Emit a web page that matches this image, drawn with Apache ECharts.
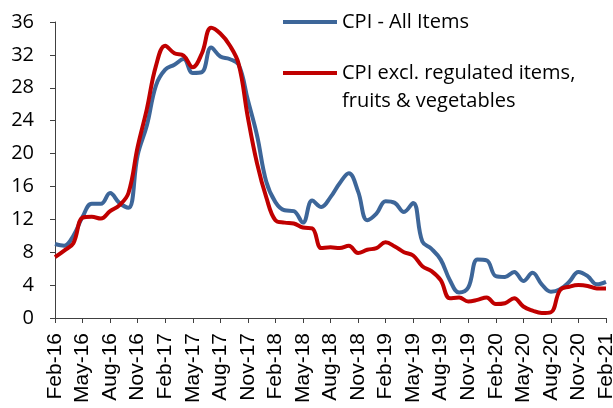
<!DOCTYPE html>
<html>
<head>
<meta charset="utf-8">
<script src="https://cdn.jsdelivr.net/npm/echarts@6/dist/echarts.min.js"></script>
<style>
html,body{margin:0;padding:0;background:#fff;}
#c{width:613px;height:408px;}
</style>
</head>
<body>
<div id="c"></div>
<script>
var categories = [
 'Feb-16','Mar-16','Apr-16','May-16','Jun-16','Jul-16','Aug-16','Sep-16','Oct-16','Nov-16','Dec-16','Jan-17',
 'Feb-17','Mar-17','Apr-17','May-17','Jun-17','Jul-17','Aug-17','Sep-17','Oct-17','Nov-17','Dec-17','Jan-18',
 'Feb-18','Mar-18','Apr-18','May-18','Jun-18','Jul-18','Aug-18','Sep-18','Oct-18','Nov-18','Dec-18','Jan-19',
 'Feb-19','Mar-19','Apr-19','May-19','Jun-19','Jul-19','Aug-19','Sep-19','Oct-19','Nov-19','Dec-19','Jan-20',
 'Feb-20','Mar-20','Apr-20','May-20','Jun-20','Jul-20','Aug-20','Sep-20','Oct-20','Nov-20','Dec-20','Jan-21',
 'Feb-21'
];
var cpiAll = [
 9.0, 8.8, 10.0, 12.3, 13.9, 13.9, 15.2, 14.0, 13.4, 19.8, 23.4, 28.3,
 30.2, 30.8, 31.5, 29.8, 29.9, 32.9, 31.8, 31.5, 30.8, 26.5, 22.2, 16.6,
 14.1, 13.1, 13.0, 11.6, 14.3, 13.5, 14.7, 16.4, 17.6, 15.4, 11.9, 12.7,
 14.2, 14.0, 12.9, 14.0, 9.3, 8.4, 7.1, 4.6, 3.1, 3.7, 7.1, 7.0,
 5.1, 5.0, 5.6, 4.5, 5.5, 4.1, 3.2, 3.5, 4.4, 5.6, 5.1, 4.1,
 4.4
];
var cpiExcl = [
 7.4, 8.2, 9.1, 12.2, 12.3, 12.1, 13.0, 13.7, 15.2, 20.8, 25.4, 30.7,
 33.1, 32.2, 31.9, 30.5, 32.2, 35.3, 34.6, 33.2, 30.9, 24.4, 18.8, 14.7,
 11.9, 11.6, 11.5, 11.0, 10.9, 8.5, 8.6, 8.5, 8.8, 7.9, 8.3, 8.5,
 9.2, 8.7, 8.0, 7.6, 6.3, 5.7, 4.6, 2.4, 2.5, 2.0, 2.2, 2.5,
 1.7, 1.8, 2.4, 1.4, 0.9, 0.6, 0.7, 3.4, 3.8, 4.0, 3.9, 3.6,
 3.6
];
var seriesNames = ['CPI - All Items', 'CPI excl. regulated items, fruits & vegetables'];
var legendLines = ['CPI excl. regulated items,', 'fruits & vegetables'];
var yMin = 0, yMax = 36, yStep = 4;

var chart = echarts.init(document.getElementById('c'), null, {renderer: 'canvas'});
var legendFont = {fontFamily: 'Open Sans', fontSize: 20, color: '#000'};
chart.setOption({
  animation: false,
  backgroundColor: '#fff',
  grid: {left: 55, right: 7, top: 22, bottom: 90, containLabel: false, outerBoundsMode: 'none'},
  legend: [
    {
      data: [seriesNames[0]], left: 283, top: 12, padding: 0, icon: 'rect', itemWidth: 54, itemHeight: 4,
      textStyle: legendFont
    },
    {
      data: [seriesNames[1]], left: 283, top: 63, padding: 0, icon: 'rect', itemWidth: 54, itemHeight: 4,
      formatter: function () { return legendLines[0]; },
      textStyle: legendFont
    }
  ],
  graphic: [
    {type: 'text', left: 342, top: 91, silent: true,
     style: {text: legendLines[1], font: '20px "Open Sans"', fill: '#000'}}
  ],
  xAxis: {
    type: 'category', data: categories, boundaryGap: false,
    axisLine: {lineStyle: {color: '#404040', width: 1}},
    axisTick: {show: true, interval: 2, length: 5, lineStyle: {color: '#404040'}},
    axisLabel: {interval: 2, rotate: 90, fontFamily: 'Liberation Sans', fontSize: 21, color: '#000', margin: 15},
    splitLine: {show: false}
  },
  yAxis: {
    type: 'value', min: yMin, max: yMax, interval: yStep,
    axisLine: {show: true, lineStyle: {color: '#404040', width: 1}},
    axisTick: {show: true, length: 5, lineStyle: {color: '#404040'}},
    axisLabel: {fontFamily: 'Open Sans', fontSize: 20, color: '#000', margin: 21},
    splitLine: {show: false}
  },
  series: [
    {name: seriesNames[0], type: 'line', data: cpiAll, smooth: 0.4, symbol: 'none',
     lineStyle: {color: '#3d6699', width: 4}, itemStyle: {color: '#3d6699'}, z: 2},
    {name: seriesNames[1], type: 'line', data: cpiExcl, smooth: 0.4, symbol: 'none',
     lineStyle: {color: '#c00000', width: 4}, itemStyle: {color: '#c00000'}, z: 3}
  ]
});
</script>
</body>
</html>
